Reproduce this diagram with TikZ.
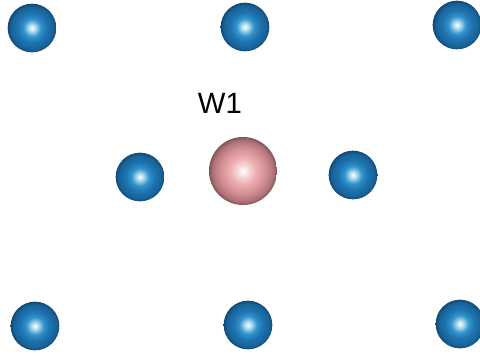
\documentclass[tikz,border=0pt]{standalone}
\usepackage{fontspec}
\setmainfont{Liberation Sans}
\usepackage{tikz}
\definecolor{bluea}{RGB}{178,220,240}
\definecolor{blueb}{RGB}{50,148,204}
\definecolor{bluec}{RGB}{30,116,176}
\definecolor{blued}{RGB}{24,98,152}
\definecolor{bluee}{RGB}{18,72,116}
\definecolor{pinka}{RGB}{250,222,224}
\definecolor{pinkb}{RGB}{236,172,176}
\definecolor{pinkc}{RGB}{208,142,146}
\definecolor{pinkd}{RGB}{172,114,118}
\definecolor{pinke}{RGB}{126,84,88}
\pgfdeclareradialshading{ballblue}{\pgfpoint{0bp}{0bp}}{%
  color(0bp)=(white); color(3.5bp)=(bluea); color(9bp)=(blueb);
  color(15bp)=(bluec); color(22bp)=(blued); color(25bp)=(bluee); color(50bp)=(bluee)}
\pgfdeclareradialshading{ballpink}{\pgfpoint{0bp}{0bp}}{%
  color(0bp)=(white); color(3.5bp)=(pinka); color(10bp)=(pinkb);
  color(17bp)=(pinkc); color(22.5bp)=(pinkd); color(25bp)=(pinke); color(50bp)=(pinke)}
\tikzset{
  vatom/.style={circle, inner sep=0pt, minimum size=36.5pt, shading=ballblue},
  watom/.style={circle, inner sep=0pt, minimum size=51pt, shading=ballpink},
  vlab/.style={font=\fontsize{22}{24}\selectfont, text=black, inner sep=0pt},
}

\begin{document}
\begin{tikzpicture}[x=0.75pt, y=-0.75pt]
        \useasboundingbox (0,0) rectangle (480,355);
        \node[vatom] (a) at (32,28) {};
        \node[vatom] (b) at (245,27) {};
        \node[vatom] (c) at (457,25) {};
        \node[vatom] (d) at (140,177) {};
        \node[watom] (w) at (243,171) {};
        \node[vatom] (e) at (353,175) {};
        \node[vatom] (f) at (35,326) {};
        \node[vatom] (g) at (248,325) {};
        \node[vatom] (h) at (460,324) {};
        \node[vlab] (t) at (220,103) {W1};
      \end{tikzpicture}
\end{document}
